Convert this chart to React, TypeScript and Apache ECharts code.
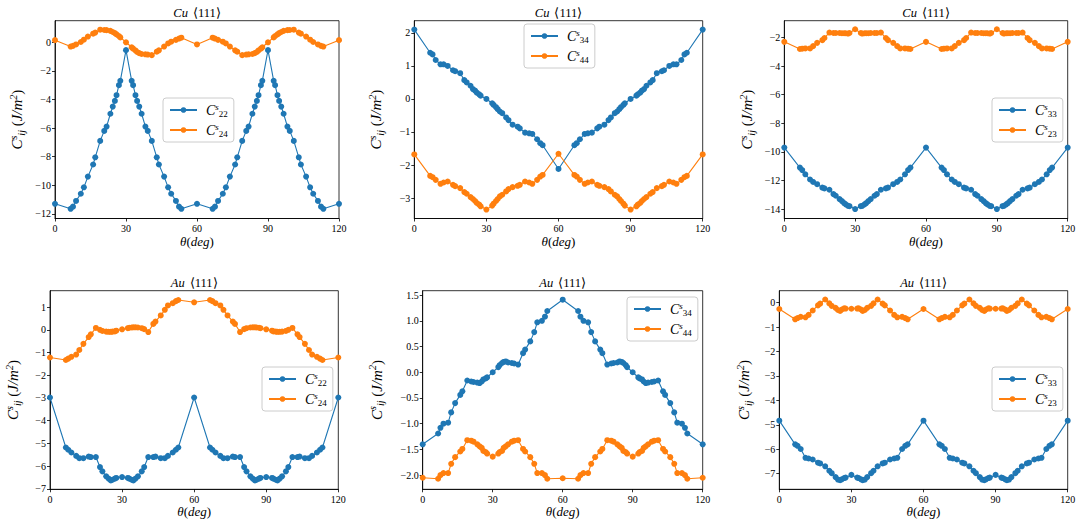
import React, { useEffect, useRef } from "react";
import * as echarts from "echarts";

const theta = [
  0, 6.6, 7.6, 8.9, 10.9, 12.2, 13.9, 16.1, 17.0, 19.1, 20.8, 21.8, 23.4, 24.4, 25.3, 26.0, 27.0, 27.6, 30,
  32.4, 33.0, 34.0, 34.7, 35.6, 36.6, 38.2, 39.2, 40.9, 43.0, 43.9, 46.1, 47.8, 49.1, 51.1, 52.4, 53.4, 60,
  66.6, 67.6, 68.9, 70.9, 72.2, 73.9, 76.1, 77.0, 79.1, 80.8, 81.8, 83.4, 84.4, 85.3, 86.0, 87.0, 87.6, 90,
  92.4, 93.0, 94.0, 94.7, 95.6, 96.6, 98.2, 99.2, 100.9, 103.0, 103.9, 106.1, 107.8, 109.1, 111.1, 112.4, 113.4, 120,
];

const cuC22 = [
  -11.3, -11.65, -11.5, -11.1, -10.6, -10.15, -9.4, -8.55, -8.05, -6.9, -6.2, -5.9, -5.0, -4.5, -4.1, -3.7, -3.0, -2.7, -0.55,
  -2.7, -3.0, -3.7, -4.1, -4.5, -5.0, -5.9, -6.2, -6.9, -8.05, -8.55, -9.4, -10.15, -10.6, -11.1, -11.5, -11.65, -11.3,
  -11.65, -11.5, -11.1, -10.6, -10.15, -9.4, -8.55, -8.05, -6.9, -6.2, -5.9, -5.0, -4.5, -4.1, -3.7, -3.0, -2.7, -0.55,
  -2.7, -3.0, -3.7, -4.1, -4.5, -5.0, -5.9, -6.2, -6.9, -8.05, -8.55, -9.4, -10.15, -10.6, -11.1, -11.5, -11.65, -11.3,
];
const cuC24 = [
  0.15, -0.3, -0.25, -0.15, 0.02, 0.18, 0.4, 0.6, 0.68, 0.88, 0.86, 0.85, 0.8, 0.72, 0.64, 0.55, 0.44, 0.34, 0.0,
  -0.35, -0.45, -0.57, -0.68, -0.76, -0.82, -0.84, -0.86, -0.9, -0.66, -0.56, -0.3, -0.08, 0.04, 0.17, 0.26, 0.32, -0.15,
  0.32, 0.26, 0.17, 0.04, -0.08, -0.3, -0.56, -0.66, -0.9, -0.86, -0.84, -0.82, -0.76, -0.68, -0.57, -0.45, -0.35, 0.0,
  0.34, 0.44, 0.55, 0.64, 0.72, 0.8, 0.85, 0.86, 0.88, 0.68, 0.6, 0.4, 0.18, 0.02, -0.15, -0.25, -0.3, 0.15,
];
const cuC34 = [
  2.1, 1.4, 1.35, 1.18, 1.05, 1.05, 1.0, 0.87, 0.84, 0.78, 0.57, 0.5, 0.4, 0.3, 0.25, 0.19, 0.14, 0.1, 0.0,
  -0.13, -0.18, -0.25, -0.31, -0.38, -0.43, -0.56, -0.64, -0.78, -0.84, -0.89, -1.02, -1.04, -1.06, -1.22, -1.34, -1.4, -2.12,
  -1.4, -1.34, -1.22, -1.06, -1.04, -1.02, -0.89, -0.84, -0.78, -0.64, -0.56, -0.43, -0.38, -0.31, -0.25, -0.18, -0.13, 0.0,
  0.1, 0.14, 0.19, 0.25, 0.3, 0.4, 0.5, 0.57, 0.78, 0.84, 0.87, 1.0, 1.05, 1.05, 1.18, 1.35, 1.4, 2.1,
];
const cuC44 = [
  -1.68, -2.33, -2.37, -2.45, -2.57, -2.53, -2.5, -2.6, -2.64, -2.7, -2.82, -2.87, -2.97, -3.03, -3.09, -3.15, -3.2, -3.25, -3.35,
  -3.23, -3.17, -3.09, -3.03, -2.95, -2.9, -2.8, -2.73, -2.67, -2.63, -2.6, -2.5, -2.53, -2.57, -2.45, -2.35, -2.3, -1.66,
  -2.3, -2.35, -2.45, -2.57, -2.53, -2.5, -2.6, -2.63, -2.67, -2.73, -2.8, -2.9, -2.95, -3.03, -3.09, -3.17, -3.23, -3.35,
  -3.25, -3.2, -3.15, -3.09, -3.03, -2.97, -2.87, -2.82, -2.7, -2.64, -2.6, -2.5, -2.53, -2.57, -2.45, -2.37, -2.33, -1.68,
];
const cuC33 = [
  -9.7, -11.1, -11.27, -11.57, -11.93, -12.1, -12.26, -12.5, -12.55, -12.65, -12.95, -13.07, -13.3, -13.44, -13.58, -13.67, -13.77, -13.8, -14.0,
  -13.8, -13.77, -13.67, -13.58, -13.44, -13.3, -13.07, -12.95, -12.65, -12.55, -12.5, -12.26, -12.1, -11.93, -11.57, -11.27, -11.1, -9.7,
  -11.1, -11.27, -11.57, -11.93, -12.1, -12.26, -12.5, -12.55, -12.65, -12.95, -13.07, -13.3, -13.44, -13.58, -13.67, -13.77, -13.8, -14.0,
  -13.8, -13.77, -13.67, -13.58, -13.44, -13.3, -13.07, -12.95, -12.65, -12.55, -12.5, -12.26, -12.1, -11.93, -11.57, -11.27, -11.1, -9.7,
];
const cuC23 = [
  -2.3, -2.8, -2.78, -2.76, -2.76, -2.6, -2.37, -2.18, -2.03, -1.65, -1.68, -1.68, -1.68, -1.7, -1.7, -1.7, -1.72, -1.68, -1.42,
  -1.68, -1.72, -1.7, -1.7, -1.7, -1.68, -1.68, -1.68, -1.65, -2.03, -2.18, -2.37, -2.6, -2.76, -2.76, -2.78, -2.8, -2.3,
  -2.8, -2.78, -2.76, -2.76, -2.6, -2.37, -2.18, -2.03, -1.65, -1.68, -1.68, -1.68, -1.7, -1.7, -1.7, -1.72, -1.68, -1.42,
  -1.68, -1.72, -1.7, -1.7, -1.7, -1.68, -1.68, -1.68, -1.65, -2.03, -2.18, -2.37, -2.6, -2.76, -2.76, -2.78, -2.8, -2.3,
];
const auC22 = [
  -2.98, -5.18, -5.28, -5.4, -5.55, -5.65, -5.65, -5.58, -5.6, -5.6, -6.04, -6.23, -6.45, -6.55, -6.63, -6.6, -6.55, -6.52, -6.48,
  -6.52, -6.55, -6.6, -6.63, -6.55, -6.45, -6.23, -6.04, -5.6, -5.6, -5.58, -5.65, -5.65, -5.55, -5.4, -5.28, -5.18, -2.98,
  -5.18, -5.28, -5.4, -5.55, -5.65, -5.65, -5.58, -5.6, -5.6, -6.04, -6.23, -6.45, -6.55, -6.63, -6.6, -6.55, -6.52, -6.48,
  -6.52, -6.55, -6.6, -6.63, -6.55, -6.45, -6.23, -6.04, -5.6, -5.6, -5.58, -5.65, -5.65, -5.55, -5.4, -5.28, -5.18, -2.98,
];
const auC24 = [
  -1.22, -1.33, -1.27, -1.19, -1.09, -0.89, -0.62, -0.32, -0.2, 0.08, 0.0, -0.05, -0.08, -0.09, -0.09, -0.08, -0.07, -0.04, 0.02,
  0.07, 0.09, 0.1, 0.11, 0.11, 0.1, 0.07, 0.03, -0.1, 0.26, 0.36, 0.63, 0.88, 1.07, 1.17, 1.26, 1.31, 1.21,
  1.31, 1.26, 1.17, 1.07, 0.88, 0.63, 0.36, 0.26, -0.1, 0.03, 0.07, 0.1, 0.11, 0.11, 0.1, 0.09, 0.07, 0.02,
  -0.04, -0.07, -0.08, -0.09, -0.09, -0.08, -0.05, 0.0, 0.08, -0.2, -0.32, -0.62, -0.89, -1.09, -1.19, -1.27, -1.33, -1.22,
];
const auC34 = [
  -1.4, -1.19, -1.08, -1.0, -0.98, -0.78, -0.6, -0.44, -0.37, -0.16, -0.18, -0.19, -0.2, -0.21, -0.18, -0.14, -0.12, -0.1, 0.0,
  0.1, 0.14, 0.18, 0.2, 0.21, 0.19, 0.18, 0.17, 0.15, 0.37, 0.44, 0.6, 0.78, 0.97, 1.0, 1.08, 1.19, 1.41,
  1.19, 1.08, 1.0, 0.97, 0.78, 0.6, 0.44, 0.37, 0.15, 0.17, 0.18, 0.19, 0.21, 0.2, 0.18, 0.14, 0.1, 0.0,
  -0.1, -0.12, -0.14, -0.18, -0.21, -0.2, -0.19, -0.18, -0.16, -0.37, -0.44, -0.6, -0.78, -0.98, -1.0, -1.08, -1.19, -1.4,
];
const auC44 = [
  -2.05, -2.07, -2.0, -1.96, -1.96, -1.78, -1.65, -1.54, -1.49, -1.32, -1.33, -1.35, -1.4, -1.44, -1.47, -1.53, -1.55, -1.58, -1.64,
  -1.58, -1.55, -1.53, -1.47, -1.44, -1.4, -1.35, -1.33, -1.32, -1.49, -1.54, -1.65, -1.78, -1.96, -1.96, -2.0, -2.07, -2.06,
  -2.07, -2.0, -1.96, -1.96, -1.78, -1.65, -1.54, -1.49, -1.32, -1.33, -1.35, -1.4, -1.44, -1.47, -1.53, -1.55, -1.58, -1.64,
  -1.58, -1.55, -1.53, -1.47, -1.44, -1.4, -1.35, -1.33, -1.32, -1.49, -1.54, -1.65, -1.78, -1.96, -1.96, -2.0, -2.07, -2.05,
];
const auC33 = [
  -4.83, -5.8, -5.86, -5.99, -6.35, -6.38, -6.42, -6.55, -6.58, -6.7, -6.88, -6.98, -7.14, -7.24, -7.27, -7.23, -7.18, -7.16, -7.05,
  -7.16, -7.18, -7.23, -7.27, -7.24, -7.14, -6.98, -6.88, -6.7, -6.58, -6.55, -6.42, -6.38, -6.35, -5.99, -5.86, -5.8, -4.83,
  -5.8, -5.86, -5.99, -6.35, -6.38, -6.42, -6.55, -6.58, -6.7, -6.88, -6.98, -7.14, -7.24, -7.27, -7.23, -7.18, -7.16, -7.05,
  -7.16, -7.18, -7.23, -7.27, -7.24, -7.14, -6.98, -6.88, -6.7, -6.58, -6.55, -6.42, -6.38, -6.35, -5.99, -5.86, -5.8, -4.83,
];
const auC23 = [
  -0.26, -0.68, -0.63, -0.58, -0.6, -0.5, -0.32, -0.11, -0.04, 0.13, -0.03, -0.13, -0.21, -0.3, -0.34, -0.28, -0.23, -0.24, -0.25,
  -0.24, -0.23, -0.28, -0.34, -0.3, -0.21, -0.13, -0.03, 0.13, -0.04, -0.11, -0.32, -0.5, -0.6, -0.58, -0.63, -0.68, -0.26,
  -0.68, -0.63, -0.58, -0.6, -0.5, -0.32, -0.11, -0.04, 0.13, -0.03, -0.13, -0.21, -0.3, -0.34, -0.28, -0.23, -0.24, -0.25,
  -0.24, -0.23, -0.28, -0.34, -0.3, -0.21, -0.13, -0.03, 0.13, -0.04, -0.11, -0.32, -0.5, -0.6, -0.58, -0.63, -0.68, -0.26,
];

const xTicks = [0, 30, 60, 90, 120];
const yTicks1 = [-12, -10, -8, -6, -4, -2, 0];
const yTicks2 = [-3, -2, -1, 0, 1, 2];
const yTicks3 = [-14, -12, -10, -8, -6, -4, -2];
const yTicks4 = [-7, -6, -5, -4, -3, -2, -1, 0, 1];
const yTicks5 = [-2.0, -1.5, -1.0, -0.5, 0.0, 0.5, 1.0, 1.5];
const yTicks6 = [-7, -6, -5, -4, -3, -2, -1, 0];

const BLUE = "#1f77b4";
const ORANGE = "#ff7f0e";
const FONT = "Liberation Serif";

const panels = [
  { el: "Cu", grid: { left: 55, top: 20.7, width: 284, height: 197.8 }, yMin: -12.33, yMax: 1.51, ticks: yTicks1, dec: 0, nameGap: 29,
    s: [{ sub: "22", data: cuC22, color: BLUE }, { sub: "24", data: cuC24, color: ORANGE }], legend: { left: 163, top: 98 } },
  { el: "Cu", grid: { left: 414.3, top: 20.7, width: 288.4, height: 197.8 }, yMin: -3.62, yMax: 2.37, ticks: yTicks2, dec: 0, nameGap: 29,
    s: [{ sub: "34", data: cuC34, color: BLUE }, { sub: "44", data: cuC44, color: ORANGE }], legend: { left: 524, top: 24 } },
  { el: "Cu", grid: { left: 784.3, top: 20.7, width: 283.4, height: 197.8 }, yMin: -14.66, yMax: -0.82, ticks: yTicks3, dec: 0, nameGap: 28,
    s: [{ sub: "33", data: cuC33, color: BLUE }, { sub: "23", data: cuC23, color: ORANGE }], legend: { left: 992, top: 98 } },
  { el: "Au", grid: { left: 50, top: 290.7, width: 288.3, height: 198.6 }, yMin: -7.02, yMax: 1.72, ticks: yTicks4, dec: 0, nameGap: 28,
    s: [{ sub: "22", data: auC22, color: BLUE }, { sub: "24", data: auC24, color: ORANGE }], legend: { left: 262, top: 367 } },
  { el: "Au", grid: { left: 422.7, top: 290.7, width: 280, height: 198.6 }, yMin: -2.275, yMax: 1.585, ticks: yTicks5, dec: 1, nameGap: 37,
    s: [{ sub: "34", data: auC34, color: BLUE }, { sub: "44", data: auC44, color: ORANGE }], legend: { left: 627, top: 297 } },
  { el: "Au", grid: { left: 779.3, top: 290.7, width: 288.4, height: 198.6 }, yMin: -7.64, yMax: 0.49, ticks: yTicks6, dec: 0, nameGap: 26,
    s: [{ sub: "33", data: auC33, color: BLUE }, { sub: "23", data: auC23, color: ORANGE }], legend: { left: 992, top: 367 } },
];

const fmt = (v: number, dec: number) => v.toFixed(dec).replace("-", "\u2212");

function buildOption() {
  const grids: any[] = [];
  const xAxes: any[] = [];
  const yAxes: any[] = [];
  const series: any[] = [];
  const legends: any[] = [];
  const titles: any[] = [];
  const subMap: Record<string, string> = {};

  panels.forEach((p, i) => {
    grids.push({ ...p.grid, show: true, borderColor: "#000", borderWidth: 0.8, containLabel: false });
    titles.push({
      text: `{it|${p.el}} {n|\u27e8111\u27e9}`,
      left: p.grid.left + p.grid.width / 2,
      top: p.grid.top - 17,
      textAlign: "center",
      padding: 0,
      textStyle: {
        fontWeight: "normal",
        rich: {
          it: { fontFamily: FONT, fontStyle: "italic", fontWeight: "normal", fontSize: 12.5, color: "#000" },
          n: { fontFamily: FONT, fontWeight: "normal", fontSize: 12.5, color: "#000" },
        },
      },
    });
    xAxes.push({
      type: "value",
      gridIndex: i,
      min: 0,
      max: 120,
      interval: 30,
      name: "{it|\u03b8}{n|(}{it|deg}{n|)}",
      nameLocation: "middle",
      nameGap: 16,
      nameTextStyle: {
        rich: {
          it: { fontFamily: FONT, fontStyle: "italic", fontSize: 13, color: "#000" },
          n: { fontFamily: FONT, fontSize: 13, color: "#000" },
        },
      },
      axisLine: { show: true, onZero: false, lineStyle: { color: "#000", width: 0.8 } },
      axisTick: { show: true, length: 3, lineStyle: { color: "#000", width: 0.8 }, customValues: xTicks },
      axisLabel: { fontFamily: FONT, fontSize: 10, color: "#000", margin: 5, customValues: xTicks, formatter: (v: number) => fmt(v, 0) },
      splitLine: { show: false },
    });
    const dec = p.dec;
    yAxes.push({
      type: "value",
      gridIndex: i,
      min: p.yMin,
      max: p.yMax,
      name: "{it|C}{sup|s}{sub|ij}{n| (}{it|J/m}{sup|2}{n|)}",
      nameLocation: "middle",
      nameRotate: 90,
      nameGap: p.nameGap,
      nameTextStyle: {
        rich: {
          it: { fontFamily: FONT, fontStyle: "italic", fontSize: 15, color: "#000", lineHeight: 18 },
          n: { fontFamily: FONT, fontSize: 15, color: "#000", lineHeight: 18 },
          sup: { fontFamily: FONT, fontStyle: "italic", fontSize: 10, color: "#000", verticalAlign: "top", lineHeight: 18 },
          sub: { fontFamily: FONT, fontStyle: "italic", fontSize: 10, color: "#000", verticalAlign: "bottom", lineHeight: 18 },
        },
      },
      axisLine: { show: true, onZero: false, lineStyle: { color: "#000", width: 0.8 } },
      axisTick: { show: true, length: 3, lineStyle: { color: "#000", width: 0.8 }, customValues: p.ticks },
      axisLabel: { fontFamily: FONT, fontSize: 10, color: "#000", margin: 4, customValues: p.ticks, formatter: (v: number) => fmt(v, dec) },
      splitLine: { show: false },
    });
    const names: string[] = [];
    p.s.forEach((s) => {
      const name = `p${i}_${s.sub}`;
      subMap[name] = s.sub;
      names.push(name);
      series.push({
        type: "line",
        name,
        xAxisIndex: i,
        yAxisIndex: i,
        data: theta.map((t, k) => [t, s.data[k]]),
        symbol: "circle",
        symbolSize: 6,
        showSymbol: true,
        color: s.color,
        lineStyle: { width: 1.1, color: s.color },
        itemStyle: { color: s.color },
        z: 3,
      });
    });
    legends.push({
      data: names,
      orient: "vertical",
      left: p.legend.left,
      top: p.legend.top,
      padding: [4, 6, 4, 6],
      itemGap: 4,
      itemWidth: 27,
      itemHeight: 7,
      backgroundColor: "rgba(255,255,255,0.85)",
      borderColor: "#cccccc",
      borderWidth: 1,
      borderRadius: 3,
      selectedMode: false,
      formatter: (n: string) => `{c|C}{sup|s}{sub|${subMap[n]}}`,
      textStyle: {
        padding: [0, 0, 0, 4],
        rich: {
          c: { fontFamily: FONT, fontStyle: "italic", fontSize: 14, color: "#000", lineHeight: 16 },
          sup: { fontFamily: FONT, fontStyle: "italic", fontSize: 9, color: "#000", verticalAlign: "top", lineHeight: 16 },
          sub: { fontFamily: FONT, fontSize: 9, color: "#000", verticalAlign: "bottom", lineHeight: 16 },
        },
      },
    });
  });

  return {
    animation: false,
    backgroundColor: "#ffffff",
    title: titles,
    grid: grids,
    xAxis: xAxes,
    yAxis: yAxes,
    legend: legends,
    series,
  };
}

export default function App() {
  const ref = useRef<HTMLDivElement>(null);
  useEffect(() => {
    if (!ref.current) return;
    const chart = echarts.init(ref.current, undefined, { renderer: "svg" });
    chart.setOption(buildOption() as any);
    return () => chart.dispose();
  }, []);
  return (
    <div
      ref={ref}
      style={{ position: "fixed", left: 0, top: 0, width: 1081, height: 522, background: "#fff" }}
    />
  );
}
